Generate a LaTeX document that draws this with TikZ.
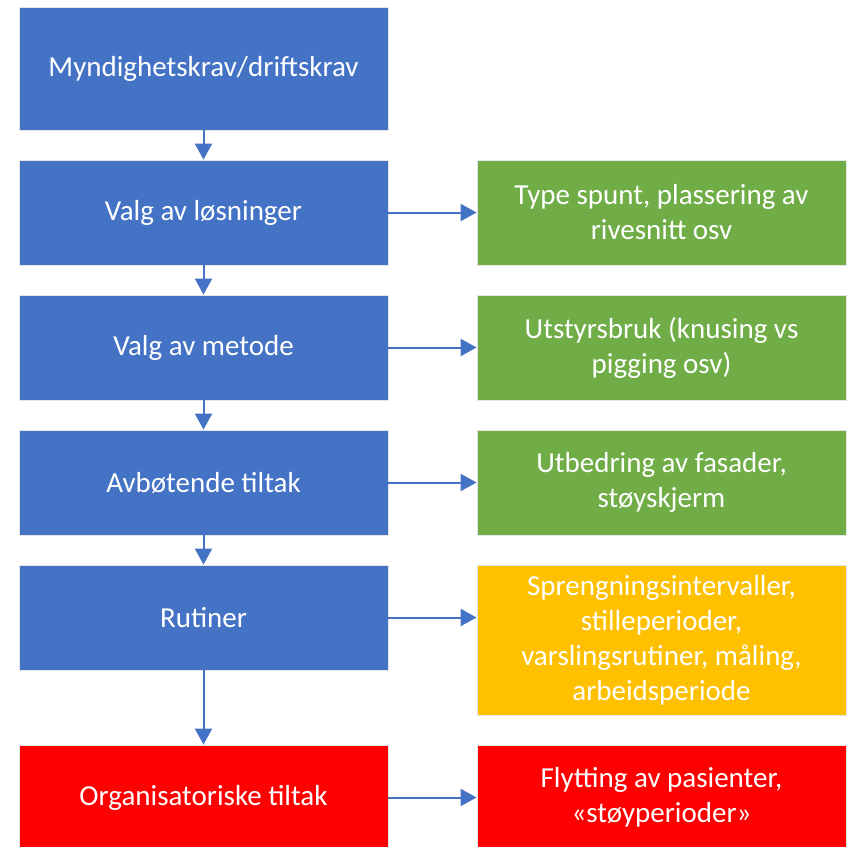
\documentclass[tikz,border=0pt]{standalone}
\usepackage{fontspec}
\setmainfont{Carlito}
\usetikzlibrary{positioning,arrows.meta}
\definecolor{boxblue}{HTML}{4472C4}
\definecolor{boxgreen}{HTML}{70AD47}
\definecolor{boxyellow}{HTML}{FFC000}
\definecolor{boxred}{HTML}{FF0000}
\tikzset{
  stepbox/.style={rectangle,draw=white!80!gray,line width=0.8pt,text=white,
    minimum width=369pt,minimum height=105pt,align=center,inner sep=0pt,
    font=\fontsize{29}{35}\selectfont},
  flow/.style={draw=boxblue,line width=2pt,-{Triangle[length=16pt,width=17pt]}}
}
\begin{document}
\begin{tikzpicture}[x=1pt,y=-1pt]
  \useasboundingbox (0,0) rectangle (856,846);
  \clip (0,0) rectangle (856,846);
  \node[stepbox,fill=boxblue,minimum height=123pt] (krav) at (203.5,68.5) {Myndighetskrav/driftskrav};
  \node[stepbox,fill=boxblue] (losn) at (203.5,212.5) {Valg av løsninger};
  \node[stepbox,fill=boxblue] (metode) at (203.5,347.5) {Valg av metode};
  \node[stepbox,fill=boxblue] (avb) at (203.5,482.5) {Avbøtende tiltak};
  \node[stepbox,fill=boxblue] (rutiner) at (203.5,617.5) {Rutiner};
  \node[stepbox,fill=boxred] (org) at (203.5,797.5) {Organisatoriske tiltak};
  \node[stepbox,fill=boxgreen] (spunt) at (661.5,212.5) {Type spunt, plassering av\\rivesnitt osv};
  \node[stepbox,fill=boxgreen] (utstyr) at (661.5,347.5) {Utstyrsbruk (knusing vs\\pigging osv)};
  \node[stepbox,fill=boxgreen] (fasade) at (661.5,482.5) {Utbedring av fasader,\\støyskjerm};
  \node[stepbox,fill=boxyellow,minimum height=150pt] (spreng) at (661.5,640) {Sprengningsintervaller,\\stilleperioder,\\varslingsrutiner, måling,\\arbeidsperiode};
  \node[stepbox,fill=boxred] (flytt) at (661.5,797.5) {Flytting av pasienter,\\«støyperioder»};
  \draw[flow] (krav) -- (losn);
  \draw[flow] (losn) -- (metode);
  \draw[flow] (metode) -- (avb);
  \draw[flow] (avb) -- (rutiner);
  \draw[flow] (rutiner) -- (org);
  \draw[flow] (losn) -- (spunt);
  \draw[flow] (metode) -- (utstyr);
  \draw[flow] (avb) -- (fasade);
  \draw[flow] (rutiner.east) -- (rutiner.east -| spreng.west);
  \draw[flow] (org) -- (flytt);
\end{tikzpicture}
\end{document}
